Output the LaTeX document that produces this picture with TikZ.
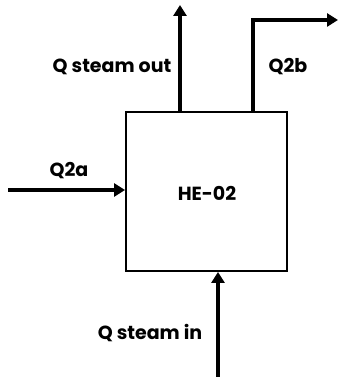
\documentclass[tikz,border=0pt]{standalone}
\usepackage{fontspec}
\setmainfont{Poppins}
\usetikzlibrary{positioning,arrows.meta,calc}
\tikzset{
  bloc/.style     = {draw, line width=1.9pt, minimum width=161pt, minimum height=159pt,
                     inner sep=0pt},
  eticheta/.style = {font=\bfseries\fontsize{19}{22}\selectfont, inner sep=0pt},
  sageata/.style  = {-{Triangle[length=11pt,width=13pt]}, line width=3.8pt}
}

\begin{document}
\begin{tikzpicture}[x=1pt,y=1pt]
    \useasboundingbox (0,0) rectangle (338,379);
        \node[bloc] (he) at (206.5,187.5) {};
        \node[eticheta] (helbl) at (207,186) {HE-02};

        \coordinate (outsus) at (180,374);
        \coordinate (q2bcot) at (253,359);
        \coordinate (q2bcap) at (338,359);
        \coordinate (q2astart) at (8,189);
        \coordinate (injos) at (218,2);

        \node[eticheta] (lout) at (112,312) {Q steam out};
        \node[eticheta] (lq2b) at (288,312) {Q2b};
        \node[eticheta] (lq2a) at (69,208) {Q2a};
        \node[eticheta] (lin) at (150,46) {Q steam in};

        \draw[sageata] (outsus |- he.north) -- (outsus);
        \draw[sageata] (q2bcot |- he.north) -- (q2bcot) -- (q2bcap);
        \draw[sageata] (q2astart) -- (q2astart -| he.west);
        \draw[sageata] (injos) -- (injos |- he.south);
    \end{tikzpicture}
\end{document}
